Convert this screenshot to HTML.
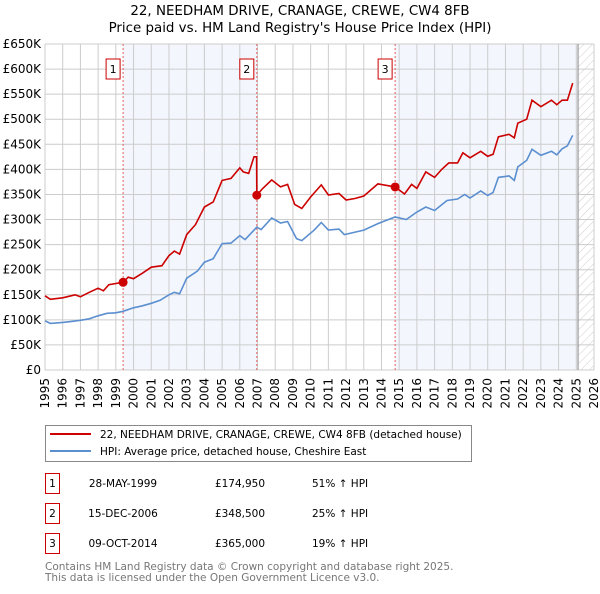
<!DOCTYPE html>
<html><head><meta charset="utf-8"><style>
body{margin:0;background:#fff;font-family:"DejaVu Sans","Liberation Sans",sans-serif;}
svg text{font-family:"DejaVu Sans","Liberation Sans",sans-serif;}
</style></head><body>
<svg id="chart" width="600" height="590" xmlns="http://www.w3.org/2000/svg">
<text x="300" y="15" text-anchor="middle" font-size="13.4">22, NEEDHAM DRIVE, CRANAGE, CREWE, CW4 8FB</text>
<text x="300" y="32" text-anchor="middle" font-size="13.4">Price paid vs. HM Land Registry's House Price Index (HPI)</text>
<g id="plot"></g>
<g>
<rect x="45.5" y="425.5" width="426" height="36" fill="#fff" stroke="#888"/>
<line x1="50" y1="434" x2="91" y2="434" stroke="#cc0000" stroke-width="2"/>
<text x="100" y="438" font-size="10.5">22, NEEDHAM DRIVE, CRANAGE, CREWE, CW4 8FB (detached house)</text>
<line x1="50" y1="451" x2="91" y2="451" stroke="#5b8fd0" stroke-width="2"/>
<text x="100" y="455" font-size="10.5">HPI: Average price, detached house, Cheshire East</text>
</g>
<g id="table" font-size="10.5"></g>
<text x="45" y="570" font-size="10.5" fill="#777">Contains HM Land Registry data © Crown copyright and database right 2025.</text>
<text x="45" y="581" font-size="10.5" fill="#777">This data is licensed under the Open Government Licence v3.0.</text>
</svg>
<script>
const hpiYears=[1995,1995.3,1996,1996.5,1997,1997.5,1998,1998.5,1999,1999.41,2000,2000.5,2001,2001.5,2002,2002.3,2002.6,2003,2003.6,2004,2004.5,2005,2005.5,2006,2006.3,2006.96,2007.2,2007.8,2008.3,2008.7,2009.2,2009.5,2010.2,2010.6,2011,2011.6,2011.9,2013,2013.8,2014.77,2015.4,2016,2016.5,2017,2017.7,2018.3,2018.7,2019,2019.6,2020,2020.3,2020.6,2021.2,2021.5,2021.7,2022.2,2022.5,2023,2023.6,2023.9,2024.2,2024.5,2024.8];
const hpiValues=[98000,93000,95000,97000,99000,102000,108000,113000,114000,117000,124000,128000,133000,139000,150000,155000,152000,183000,197000,215000,222000,252000,253000,268000,260000,285000,280000,303000,293000,296000,262000,258000,279000,294000,279000,281000,270000,279000,292000,305000,300000,315000,325000,318000,338000,341000,350000,343000,357000,348000,354000,384000,387000,378000,405000,418000,440000,428000,436000,429000,441000,447000,468000];
const priceYears=[1995,1995.3,1996,1996.7,1997,1997.5,1998,1998.3,1998.6,1999.41,1999.7,2000,2000.5,2001,2001.6,2002,2002.3,2002.6,2003,2003.5,2004,2004.5,2005,2005.5,2006,2006.2,2006.5,2006.8,2006.95,2006.96,2007.3,2007.8,2008.3,2008.7,2009.1,2009.5,2010,2010.6,2011,2011.6,2012,2012.5,2013,2013.8,2014.77,2015.3,2015.7,2016,2016.5,2017,2017.4,2017.8,2018.3,2018.6,2019,2019.6,2020,2020.3,2020.6,2021.2,2021.5,2021.7,2022.2,2022.5,2023,2023.6,2023.9,2024.2,2024.5,2024.8];
const priceValues=[148000,141000,144000,150000,146000,155000,163000,158000,170000,174950,185000,182000,193000,205000,208000,228000,237000,231000,270000,290000,325000,335000,378000,382000,403000,395000,392000,425000,425000,348500,362000,379000,365000,370000,330000,322000,345000,369000,349000,352000,339000,342000,347000,371000,365000,351000,370000,362000,395000,384000,400000,413000,413000,433000,423000,436000,426000,430000,465000,470000,463000,492000,500000,538000,525000,538000,529000,538000,538000,572000];
const saleYears=[1999.41,2006.96,2014.77];
const saleValues=[174950,348500,365000];
const saleDates=["28-MAY-1999","15-DEC-2006","09-OCT-2014"];
const salePrices=["£174,950","£348,500","£365,000"];
const saleHpi=["51% ↑ HPI","25% ↑ HPI","19% ↑ HPI"];
const yTicks=[0,50000,100000,150000,200000,250000,300000,350000,400000,450000,500000,550000,600000,650000];
const yTickLabels=["£0","£50K","£100K","£150K","£200K","£250K","£300K","£350K","£400K","£450K","£500K","£550K","£600K","£650K"];
const xTicks=[1995,1996,1997,1998,1999,2000,2001,2002,2003,2004,2005,2006,2007,2008,2009,2010,2011,2012,2013,2014,2015,2016,2017,2018,2019,2020,2021,2022,2023,2024,2025,2026];
const NS="http://www.w3.org/2000/svg";
const X0=45,X1=594,Y0=370,Y1=44,Ymin=1995,Ymax=2026,Vmax=650000,dataEnd=2025.1;
const xs=y=>X0+(y-Ymin)/(Ymax-Ymin)*(X1-X0);
const ys=v=>Y0-v/Vmax*(Y0-Y1);
const plot=document.getElementById('plot');
function mk(tag,attrs,parent){const e=document.createElementNS(NS,tag);for(const k in attrs)e.setAttribute(k,attrs[k]);(parent||plot).appendChild(e);return e;}
const defs=mk('defs',{});
const pat=mk('pattern',{id:'hatch',width:6,height:6,patternUnits:'userSpaceOnUse',patternTransform:'rotate(45)'},defs);
mk('line',{x1:0,y1:0,x2:0,y2:6,stroke:'#ccc','stroke-width':1},pat);
let s=mk('rect',{x:xs(saleYears[0]),y:Y1,width:xs(saleYears[1])-xs(saleYears[0]),height:Y0-Y1,fill:'#eef3fc',opacity:0.7});


s=mk('rect',{x:xs(saleYears[2]),y:Y1,width:xs(dataEnd)-xs(saleYears[2]),height:Y0-Y1,fill:'#eef3fc',opacity:0.7});


s=mk('rect',{x:xs(dataEnd),y:Y1,width:X1-xs(dataEnd),height:Y0-Y1,fill:'url(#hatch)'});


xTicks.forEach((t,i)=>{
 const l=mk('line',{x1:xs(t),x2:xs(t),y1:Y1,y2:Y0,stroke:'#ccc','stroke-width':1});
 
 
 const tx=mk('text',{x:0,y:0,'font-size':12,'text-anchor':'end',transform:`translate(${xs(t)+4},${Y0+8}) rotate(-90)`});
 tx.textContent=t;
 
 
});
yTicks.forEach((t,i)=>{
 const l=mk('line',{x1:X0,x2:X1,y1:ys(t),y2:ys(t),stroke:'#ccc','stroke-width':1});
 
 
 const tx=mk('text',{x:X0-4,y:ys(t)+4,'font-size':12,'text-anchor':'end'});
 tx.textContent=yTickLabels[i];
 
 
});
const el=mk('line',{x1:xs(dataEnd),x2:xs(dataEnd),y1:Y1,y2:Y0,stroke:'#999','stroke-width':1.2});


saleYears.forEach((y,i)=>{
 const l=mk('line',{x1:xs(y),x2:xs(y),y1:Y1,y2:Y0,stroke:'#e06060','stroke-width':1,'stroke-dasharray':'2,2'});
 
 
 const r=mk('rect',{x:xs(y)-17,y:59,width:14,height:20,fill:'#fff',stroke:'#cc0000'});
 
 
 const t=mk('text',{x:xs(y)-10,y:73,'font-size':11,'text-anchor':'middle'});
 t.textContent=i+1;
 
 
});
function path(xsArr,vs){return xsArr.map((x,i)=>(i?'L':'M')+xs(x).toFixed(1)+','+ys(vs[i]).toFixed(1)).join('');}
const hp=mk('path',{d:path(hpiYears,hpiValues),fill:'none',stroke:'#5b8fd0','stroke-width':1.6});


const pp=mk('path',{d:path(priceYears,priceValues),fill:'none',stroke:'#cc0000','stroke-width':1.6});


saleYears.forEach((y,i)=>{
 const c=mk('circle',{cx:xs(y),cy:ys(saleValues[i]),r:4.5,fill:'#cc0000'});
 
 
});
const tbl=document.getElementById('table');
saleDates.forEach((d,i)=>{
 const cy=483+i*30;
 const r=mk('rect',{x:45.5,y:cy-9.5,width:14,height:20,fill:'#fff',stroke:'#cc0000'},tbl);
 
 
 const n=mk('text',{x:52.5,y:cy+4,'text-anchor':'middle'},tbl);n.textContent=i+1;
 
 
 const a=mk('text',{x:123,y:cy+4,'text-anchor':'middle'},tbl);a.textContent=d;
 
 
 const b=mk('text',{x:240,y:cy+4,'text-anchor':'middle'},tbl);b.textContent=salePrices[i];
 
 
 const c=mk('text',{x:312,y:cy+4},tbl);c.textContent=saleHpi[i];
 
 
});
</script>
</body></html>
